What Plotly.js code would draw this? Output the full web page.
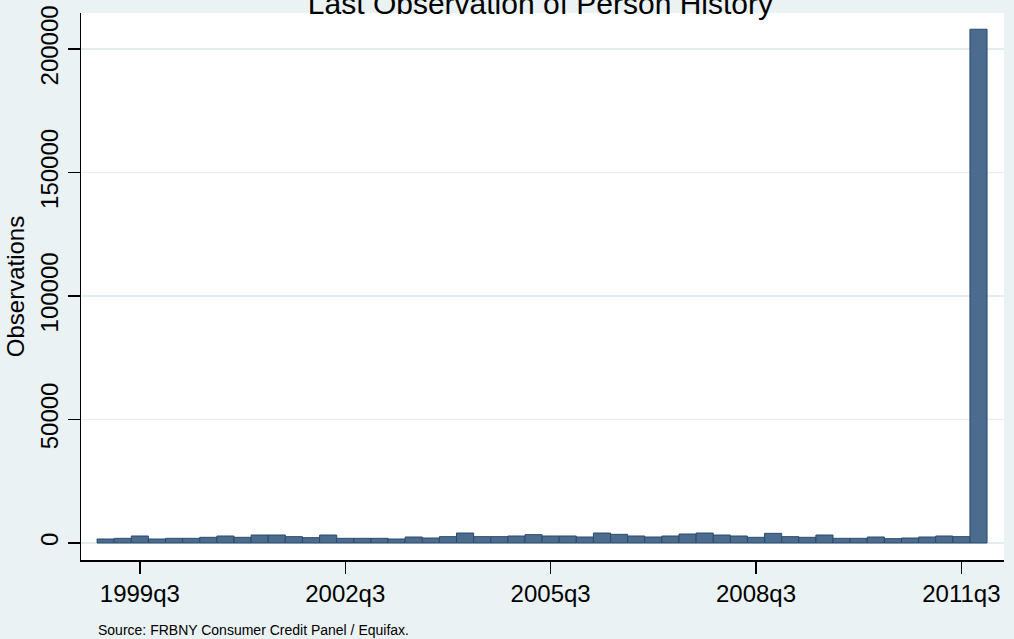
<!DOCTYPE html>
<html>
<head>
<meta charset="utf-8">
<script src="https://cdn.plot.ly/plotly-3.0.1.min.js"></script>
<style>html,body{margin:0;padding:0;background:#eaf2f3;}#chart{width:1014px;height:639px;}</style>
</head>
<body>
<div id="chart"></div>
<script>
const quarters = [
  "1999q1","1999q2","1999q3","1999q4",
  "2000q1","2000q2","2000q3","2000q4",
  "2001q1","2001q2","2001q3","2001q4",
  "2002q1","2002q2","2002q3","2002q4",
  "2003q1","2003q2","2003q3","2003q4",
  "2004q1","2004q2","2004q3","2004q4",
  "2005q1","2005q2","2005q3","2005q4",
  "2006q1","2006q2","2006q3","2006q4",
  "2007q1","2007q2","2007q3","2007q4",
  "2008q1","2008q2","2008q3","2008q4",
  "2009q1","2009q2","2009q3","2009q4",
  "2010q1","2010q2","2010q3","2010q4",
  "2011q1","2011q2","2011q3","2011q4"
];
const observations = [
  1620,1890,2835,1620,
  1890,1890,2300,2835,
  2300,3240,3240,2565,
  2160,3240,1890,1890,
  1890,1620,2430,2025,
  2565,4050,2565,2565,
  2835,3375,2835,2835,
  2430,4050,3510,2835,
  2430,2835,3645,4050,
  3240,2835,2300,3915,
  2565,2300,3240,1890,
  1890,2430,1755,2025,
  2430,2835,2565,208000
];
const xTickVals = ["1999q3","2002q3","2005q3","2008q3","2011q3"];
const yTickVals = [0,50000,100000,150000,200000];
const yTickText = ["0","50000","100000","150000","200000"];

const trace = {
  type: 'bar',
  x: quarters,
  y: observations,
  marker: {color: '#4b6c8e', line: {color: '#2c4b6b', width: 1}},
  hoverinfo: 'x+y'
};

const layout = {
  width: 1014, height: 639,
  paper_bgcolor: '#eaf2f3',
  plot_bgcolor: '#ffffff',
  margin: {l: 81, r: 10, t: 13, b: 79},
  bargap: 0,
  showlegend: false,
  font: {family: 'Liberation Sans, Arial, sans-serif', color: '#000'},
  title: {text: 'Last Observation of Person History', font: {size: 30, color: '#000'},
          x: 0.533, xanchor: 'center', y: 0.995, yanchor: 'middle', yref: 'container'},
  xaxis: {
    type: 'category',
    range: [-1.44, 52.49],
    tickmode: 'array', tickvals: xTickVals, ticktext: xTickVals,
    ticks: 'outside', ticklen: 12, tickwidth: 1.5, tickcolor: '#000',
    showline: true, linecolor: '#000', linewidth: 1.5,
    showgrid: false, zeroline: false,
    tickfont: {size: 24}
  },
  yaxis: {
    range: [-6883, 214575],
    tickmode: 'array', tickvals: yTickVals, ticktext: yTickText,
    tickangle: -90,
    ticks: 'outside', ticklen: 12, tickwidth: 1.5, tickcolor: '#000',
    showline: true, linecolor: '#000', linewidth: 1.5,
    showgrid: true, gridcolor: '#e3ecef', gridwidth: 1.5,
    zeroline: false,
    tickfont: {size: 24},
    title: {text: 'Observations', font: {size: 24}, standoff: 4}
  },
  annotations: [{
    text: 'Source: FRBNY Consumer Credit Panel / Equifax.',
    xref: 'paper', yref: 'paper', x: 0.016, y: -0.11, xanchor: 'left', yanchor: 'top',
    showarrow: false, font: {size: 14, color: '#000'}
  }]
};

Plotly.newPlot('chart', [trace], layout, {displayModeBar: false, staticPlot: true});
</script>
</body>
</html>
